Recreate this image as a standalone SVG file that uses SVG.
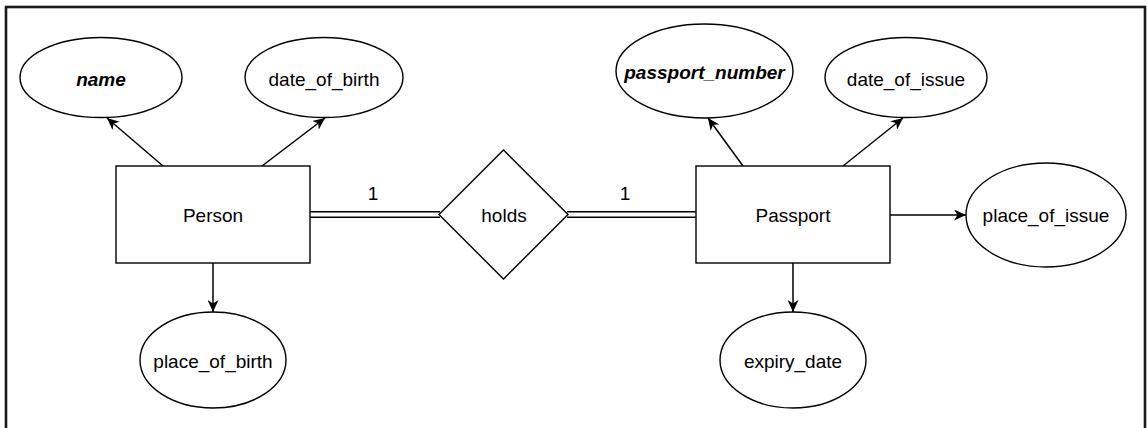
<svg xmlns="http://www.w3.org/2000/svg" width="1147" height="428" viewBox="0 0 1147 428">
<style>
  .shape { fill: #ffffff; stroke: #000000; stroke-width: 1.4; }
  .lbl { font-family: "Liberation Sans", Arial, sans-serif; font-size: 19px; fill: #000000; text-anchor: middle; }
  .key { font-weight: bold; font-style: italic; }
  .edge { fill: none; stroke: #000000; stroke-width: 1.5; }
</style>
<defs>
  <marker id="arrow" markerUnits="userSpaceOnUse" markerWidth="13" markerHeight="11" refX="12" refY="5.5" orient="auto">
    <path d="M0,0 L12,5.5 L0,11 L3.5,5.5 Z" fill="#000000"/>
  </marker>
</defs>
<rect x="0" y="0" width="1147" height="428" fill="#ffffff"/>
<rect id="frame" x="6" y="7" width="1139" height="440" fill="none" stroke="#1a1a1a" stroke-width="2.6"/>

<g id="connectors">
  <line class="edge" x1="163" y1="166" x2="107" y2="118" marker-end="url(#arrow)"/>
  <line class="edge" x1="262" y1="166" x2="325" y2="118" marker-end="url(#arrow)"/>
  <line class="edge" x1="213" y1="263" x2="213" y2="312" marker-end="url(#arrow)"/>
  <line class="edge" x1="743" y1="166" x2="708" y2="118" marker-end="url(#arrow)"/>
  <line class="edge" x1="843" y1="166" x2="903" y2="118" marker-end="url(#arrow)"/>
  <line class="edge" x1="890" y1="215" x2="966" y2="215" marker-end="url(#arrow)"/>
  <line class="edge" x1="793" y1="263" x2="793" y2="312" marker-end="url(#arrow)"/>
  <g id="person-holds">
    <line x1="310" y1="214.5" x2="440" y2="214.5" stroke="#000000" stroke-width="7"/>
    <line x1="310" y1="214.5" x2="440" y2="214.5" stroke="#ffffff" stroke-width="4"/>
    <text class="lbl" x="373" y="200">1</text>
  </g>
  <g id="holds-passport">
    <line x1="567" y1="214.5" x2="697" y2="214.5" stroke="#000000" stroke-width="7"/>
    <line x1="567" y1="214.5" x2="697" y2="214.5" stroke="#ffffff" stroke-width="4"/>
    <text class="lbl" x="625" y="200">1</text>
  </g>
</g>

<g id="name">
  <ellipse class="shape" cx="101" cy="77.5" rx="81" ry="40"/>
  <text class="lbl key" x="101" y="86">name</text>
</g>
<g id="date_of_birth">
  <ellipse class="shape" cx="324" cy="77.5" rx="79" ry="40"/>
  <text class="lbl" x="324" y="86">date_of_birth</text>
</g>
<g id="person">
  <rect class="shape" x="116" y="166" width="194" height="97"/>
  <text class="lbl" x="213" y="222">Person</text>
</g>
<g id="place_of_birth">
  <ellipse class="shape" cx="213" cy="360" rx="73" ry="48"/>
  <text class="lbl" x="213" y="368">place_of_birth</text>
</g>
<g id="holds">
  <polygon class="shape" points="503.5,150 568,214.5 503.5,279 439,214.5"/>
  <text class="lbl" x="504" y="222">holds</text>
</g>
<g id="passport_number">
  <ellipse class="shape" cx="704.5" cy="71" rx="88.5" ry="47"/>
  <text class="lbl key" x="704.5" y="79">passport_number</text>
</g>
<g id="date_of_issue">
  <ellipse class="shape" cx="906" cy="77.5" rx="81" ry="40"/>
  <text class="lbl" x="906" y="86">date_of_issue</text>
</g>
<g id="passport">
  <rect class="shape" x="696" y="166" width="194" height="97"/>
  <text class="lbl" x="793" y="222">Passport</text>
</g>
<g id="place_of_issue">
  <ellipse class="shape" cx="1046" cy="215" rx="80" ry="52"/>
  <text class="lbl" x="1046" y="222">place_of_issue</text>
</g>
<g id="expiry_date">
  <ellipse class="shape" cx="793" cy="360" rx="73" ry="48"/>
  <text class="lbl" x="793" y="368">expiry_date</text>
</g>
</svg>
